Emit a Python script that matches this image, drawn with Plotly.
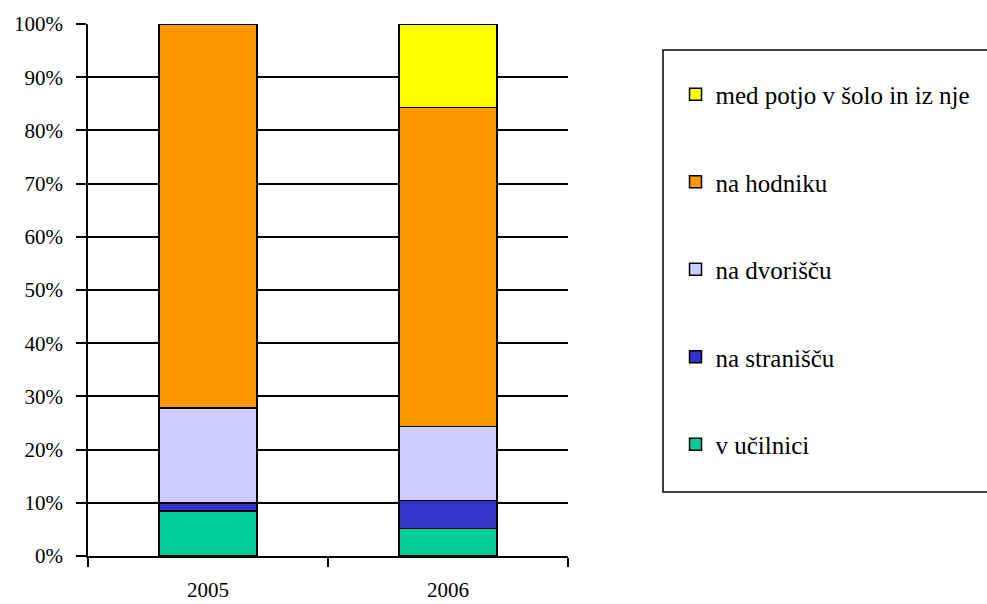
import plotly.graph_objects as go

years = ["2005", "2006"]
series_names = ["v učilnici", "na stranišču", "na dvorišču", "na hodniku", "med potjo v šolo in iz nje"]
v_ucilnici = [8.5, 5.2]
na_straniscu = [1.5, 5.2]
na_dvoriscu = [17.8, 13.9]
na_hodniku = [72.2, 60.0]
med_potjo = [0.0, 15.7]
colors = ["#00CC99", "#3333CC", "#CCCCFF", "#FF9900", "#FFFF00"]
y_ticks = [0, 10, 20, 30, 40, 50, 60, 70, 80, 90, 100]
y_tick_labels = [f"{t}%" for t in y_ticks]

values = [v_ucilnici, na_straniscu, na_dvoriscu, na_hodniku, med_potjo]

fig = go.Figure()
for i, (name, vals, col) in enumerate(zip(series_names, values, colors)):
    fig.add_trace(go.Bar(
        x=years, y=vals, name=name, legendgroup=f"g{i}", legendrank=10 - i,
        marker=dict(color=col, line=dict(color="black", width=1.5)),
        width=0.41,
    ))

font = "Liberation Serif"
fig.update_layout(
    barmode="stack",
    width=987, height=604,
    margin=dict(l=88, r=419, t=24, b=48, autoexpand=False),
    plot_bgcolor="white", paper_bgcolor="white",
    font=dict(family=font, size=21, color="black"),
    showlegend=True,
    legend=dict(
        traceorder="grouped", tracegroupgap=52,
        x=1.224, xanchor="left", y=0.9105, yanchor="top",
        font=dict(family=font, size=25, color="black"),
        borderwidth=0, bgcolor="rgba(0,0,0,0)",
        itemwidth=30,
    ),
    xaxis=dict(
        type="category", showline=True, linecolor="black", linewidth=1.5,
        ticks="outside", tickson="boundaries", ticklen=9, tickcolor="black",
        tickwidth=1.5, showgrid=False, ticklabelstandoff=14, automargin=False,
        tickfont=dict(family=font, size=21),
    ),
    yaxis=dict(
        range=[0, 100], tickvals=y_ticks, ticktext=y_tick_labels,
        showline=True, linecolor="black", linewidth=1.5,
        ticks="outside", ticklen=10, tickcolor="black", tickwidth=1.5,
        showgrid=True, gridcolor="black", gridwidth=1.5, ticklabelstandoff=9,
        automargin=False,
        tickfont=dict(family=font, size=21), zeroline=False,
    ),
    shapes=[dict(
        type="rect", xref="paper", yref="paper",
        x0=(663 - 88) / 480, x1=(992 - 88) / 480,
        y0=(556 - 492) / 532, y1=(556 - 50) / 532,
        line=dict(color="black", width=1.5), fillcolor="rgba(0,0,0,0)",
    )],
)

fig.write_html("out.html", config={"displayModeBar": False},
               post_script="document.body.style.margin='0';")
